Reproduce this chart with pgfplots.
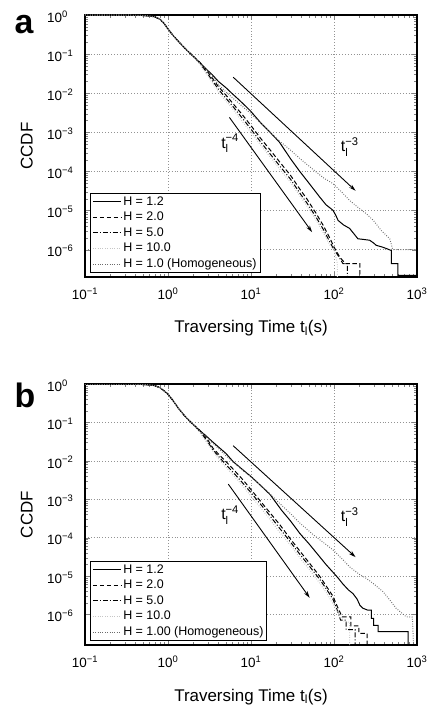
\documentclass[border=0pt]{standalone}
\usepackage{pgfplots}
\pgfplotsset{compat=1.18}
\usepackage{amsmath}
\usepackage{fontspec}
\setmainfont{Liberation Sans}
\usetikzlibrary{arrows.meta}

\pgfplotsset{
  legend image code/.code={\draw[#1] (0bp,0bp) -- (28bp,0bp);},
}
\tikzset{
  h12/.style={black, line width=1pt, solid},
  h20/.style={black, line width=1pt, dash pattern=on 4.5pt off 2.5pt},
  h50/.style={black, line width=1pt, dash pattern=on 5pt off 2pt on 1pt off 2pt},
  h10/.style={gray!45, line width=1pt, dash pattern=on 0.8pt off 1.6pt},
  hom/.style={black!58, line width=1pt, dash pattern=on 0.8pt off 1.6pt},
  arr/.style={black, line width=0.9pt, -{Stealth[length=7pt,width=4pt]}},
  tlab/.style={font=\fontsize{16}{16}\selectfont},
}

\begin{document}
\begin{tikzpicture}
\useasboundingbox (0,0) rectangle (428bp,708bp);

% ---------------- panel a ----------------
\begin{axis}[
    at={(85bp,431bp)}, anchor=south west, height=262bp, ymin=2e-7,
    scale only axis, width=332bp,
    xmode=log, ymode=log,
    xmin=0.1, xmax=1000, ymax=1,
    xtick={0.1,1,10,100,1000},
    xticklabels={10\textsuperscript{−1},10\textsuperscript{0},10\textsuperscript{1},10\textsuperscript{2},10\textsuperscript{3}},
    ytick={1e-6,1e-5,1e-4,1e-3,1e-2,1e-1,1},
    yticklabels={10\textsuperscript{−6},10\textsuperscript{−5},10\textsuperscript{−4},10\textsuperscript{−3},10\textsuperscript{−2},10\textsuperscript{−1},10\textsuperscript{0}},
    tick label style={font=\fontsize{13.5}{13.5}\selectfont},
    xticklabel style={inner sep=0pt, yshift=-11bp},
    yticklabel style={anchor=west, inner sep=0pt, xshift=-38bp, yshift=-1.5bp},
    grid=major,
    major grid style={gray!85, dash pattern=on 0.7pt off 2.2pt, line width=0.5pt},
    tick align=inside,
    major tick length=5bp, minor tick length=3bp,
    axis line style={line width=1.1pt},
    xlabel={Traversing Time t\textsubscript{l}(s)}, ylabel={CCDF},
    label style={font=\fontsize{17}{17}\selectfont},
    xlabel style={at={(axis description cs:0.5,0)}, anchor=base, yshift=-56bp},
    ylabel style={at={(axis description cs:-0.175,0.5)}, anchor=center},
    legend style={at={(0.016,0.014)}, anchor=south west, font=\fontsize{12.5}{12.5}\selectfont,
      draw=black, line width=1pt, inner sep=1.5pt, row sep=1.4pt},
    legend cell align=left,
]
\addplot[h12] coordinates {
(0.1,1) (0.3,0.995) (0.5,0.97) (0.6,0.94) (0.7,0.89) (0.8,0.78) (0.9,0.60) (1.0,0.44)
(1.15,0.30) (1.34,0.21) (1.6,0.14) (1.94,0.095) (2.44,0.059) (2.8,0.044) (3.4,0.030)
(4.05,0.020) (5,0.0138) (5.86,0.010) (7,0.0071) (8.5,0.0048) (10,0.0034) (13,0.00178)
(17,0.00100) (22,5.6e-4) (30,2.1e-4) (38.7,1.0e-4) (50,5.0e-5) (67,2.24e-5) (80,1.41e-5)
(97,1.02e-5) (105,7.6e-6) (112,5.6e-6) (130,4.3e-6) (154,3.5e-6) (175,2.5e-6) (194,1.9e-6)
(230,1.82e-6) (269,1.74e-6) (300,1.48e-6) (323,1.29e-6) (380,1.17e-6) (427,1.07e-6)
(490,9.5e-7) (490,4.4e-7) (590,4.4e-7) (590,2.2e-7) (1000,2.2e-7)};
\addlegendentry{H = 1.2}
\addplot[h20] coordinates {
(0.1,1) (0.3,0.995) (0.5,0.97) (0.6,0.94) (0.7,0.89) (0.8,0.78) (0.9,0.60) (1.0,0.44)
(1.15,0.30) (1.34,0.21) (1.6,0.14) (1.94,0.095) (2.4,0.063) (3,0.0355) (4.05,0.0148)
(5,0.0089) (6,0.0056) (8,0.0027) (10,0.00148) (13,7.1e-4) (17,3.55e-4) (22,1.78e-4)
(30,7.9e-5) (38.7,3.55e-5) (47,2.0e-5) (60,8.9e-6) (75,4.0e-6) (90,1.9e-6) (100,1.17e-6)
(117,6.5e-7) (137,4.4e-7) (205,4.4e-7) (205,2e-7)};
\addlegendentry{H = 2.0}
\addplot[h50] coordinates {
(0.1,1) (0.3,0.995) (0.5,0.97) (0.6,0.94) (0.7,0.89) (0.8,0.78) (0.9,0.60) (1.0,0.44)
(1.15,0.30) (1.34,0.21) (1.6,0.14) (1.94,0.095) (2.4,0.060) (3,0.0316) (4.05,0.0126)
(5,0.0074) (6,0.0047) (8,0.0022) (10,0.0012) (13,5.75e-4) (17,2.8e-4) (22,1.41e-4)
(30,6.3e-5) (38.7,2.8e-5) (47,1.58e-5) (60,7.1e-6) (75,3.2e-6) (90,1.51e-6) (100,1e-6)
(112,7.1e-7) (128,4.4e-7) (145,4.4e-7) (145,2e-7) (250,2e-7)};
\addlegendentry{H = 5.0}
\addplot[h10] coordinates {
(0.1,1) (0.3,0.995) (0.5,0.97) (0.6,0.94) (0.7,0.89) (0.8,0.78) (0.9,0.60) (1.0,0.44)
(1.15,0.30) (1.34,0.21) (1.6,0.14) (1.94,0.095) (2.4,0.056) (3,0.028) (4.05,0.0107)
(5,0.0063) (6,0.0040) (8,0.0018) (10,0.0010) (13,4.8e-4) (17,2.34e-4) (22,1.17e-4)
(30,5.2e-5) (38.7,2.4e-5) (47,1.32e-5) (60,6.0e-6) (75,2.6e-6) (90,1.26e-6) (100,1e-6)
(110,4.4e-7) (110,2e-7)};
\addlegendentry{H = 10.0}
\addplot[hom] coordinates {
(0.1,1) (0.3,0.995) (0.5,0.97) (0.6,0.94) (0.7,0.89) (0.8,0.78) (0.9,0.60) (1.0,0.44)
(1.15,0.30) (1.34,0.21) (1.6,0.14) (1.94,0.095) (2.44,0.059) (2.8,0.043) (3.4,0.028)
(4.05,0.0166) (5,0.0107) (6,0.0076) (8,0.0045) (10,0.0030) (13,0.00174) (15.5,0.0012)
(22,6.0e-4) (30,3.5e-4) (38.7,2.14e-4) (56,1.12e-4) (75,6.8e-5) (97,4.9e-5) (125,2.9e-5)
(154,1.82e-5) (200,1.15e-5) (245,8.3e-6) (300,5.5e-6) (370,3.1e-6) (470,1.9e-6)
(510,1e-6) (1000,1e-6)};
\addlegendentry{H = 1.0 (Homogeneous)}
\addplot[arr, forget plot] coordinates {(6.1,0.0257) (182,3.2e-5)};
\addplot[arr, forget plot] coordinates {(5.5,2.4e-3) (54.5,2.8e-6)};
\node[tlab] at (axis cs:5.6,5.2e-4) {t$_{\text{l}}^{\text{−4}}$};
\node[tlab] at (axis cs:155,4.2e-4) {t$_{\text{l}}^{\text{−3}}$};
\end{axis}
\node[font=\bfseries\fontsize{34}{34}\selectfont] at (24bp,683bp) {a};

% ---------------- panel b ----------------
\begin{axis}[
    at={(85bp,63bp)}, anchor=south west, height=261bp, ymin=1.6e-7,
    scale only axis, width=332bp,
    xmode=log, ymode=log,
    xmin=0.1, xmax=1000, ymax=1,
    xtick={0.1,1,10,100,1000},
    xticklabels={10\textsuperscript{−1},10\textsuperscript{0},10\textsuperscript{1},10\textsuperscript{2},10\textsuperscript{3}},
    ytick={1e-6,1e-5,1e-4,1e-3,1e-2,1e-1,1},
    yticklabels={10\textsuperscript{−6},10\textsuperscript{−5},10\textsuperscript{−4},10\textsuperscript{−3},10\textsuperscript{−2},10\textsuperscript{−1},10\textsuperscript{0}},
    tick label style={font=\fontsize{13.5}{13.5}\selectfont},
    xticklabel style={inner sep=0pt, yshift=-11bp},
    yticklabel style={anchor=west, inner sep=0pt, xshift=-38bp, yshift=-1.5bp},
    grid=major,
    major grid style={gray!85, dash pattern=on 0.7pt off 2.2pt, line width=0.5pt},
    tick align=inside,
    major tick length=5bp, minor tick length=3bp,
    axis line style={line width=1.1pt},
    xlabel={Traversing Time t\textsubscript{l}(s)}, ylabel={CCDF},
    label style={font=\fontsize{17}{17}\selectfont},
    xlabel style={at={(axis description cs:0.5,0)}, anchor=base, yshift=-56bp},
    ylabel style={at={(axis description cs:-0.175,0.5)}, anchor=center},
    legend style={at={(0.016,0.014)}, anchor=south west, font=\fontsize{12.5}{12.5}\selectfont,
      draw=black, line width=1pt, inner sep=1.5pt, row sep=1.4pt},
    legend cell align=left,
]
\addplot[h12] coordinates {
(0.1,1) (0.3,0.995) (0.5,0.97) (0.6,0.945) (0.7,0.9) (0.8,0.8) (0.9,0.66) (1.0,0.54)
(1.15,0.37) (1.34,0.23) (1.6,0.145) (1.94,0.095) (2.4,0.062) (2.8,0.047) (3.4,0.032)
(4.05,0.023) (5,0.0155) (6.1,0.0095) (7,0.0074) (8.5,0.0052) (10,0.0039) (13,0.0023)
(17,0.00132) (23.3,5.2e-4) (30,2.7e-4) (38.7,1.29e-4) (50,6.9e-5) (67,3.2e-5) (80,2.0e-5)
(97,1.26e-5) (112,8.9e-6) (128,6.2e-6) (150,4.3e-6) (169,3.5e-6) (190,2.5e-6) (205,1.74e-6)
(223,1.45e-6) (256,1.29e-6) (282,1.29e-6) (282,7.9e-7) (300,7.9e-7) (300,5.2e-7)
(340,5.2e-7) (340,3.55e-7) (780,3.55e-7) (780,1.6e-7) (1000,1.6e-7)};
\addlegendentry{H = 1.2}
\addplot[h20] coordinates {
(0.1,1) (0.3,0.995) (0.5,0.97) (0.6,0.945) (0.7,0.9) (0.8,0.8) (0.9,0.66) (1.0,0.54)
(1.15,0.37) (1.34,0.23) (1.6,0.145) (1.94,0.095) (2.4,0.063) (3,0.0355) (3.5,0.021)
(4.05,0.0151) (5,0.0095) (6,0.0063) (8,0.0032) (10,0.00178) (15.5,5.6e-4) (22,2.24e-4)
(30,9.1e-5) (38.7,4.5e-5) (50,2.24e-5) (67,1e-5) (82,5.2e-6) (97,3.0e-6) (110,1.58e-6)
(125,8.7e-7) (160,8.7e-7) (160,5.0e-7) (200,5.0e-7) (200,3.2e-7) (250,3.2e-7)
(250,1.6e-7) (500,1.6e-7)};
\addlegendentry{H = 2.0}
\addplot[h50] coordinates {
(0.1,1) (0.3,0.995) (0.5,0.97) (0.6,0.945) (0.7,0.9) (0.8,0.8) (0.9,0.66) (1.0,0.54)
(1.15,0.37) (1.34,0.23) (1.6,0.145) (1.94,0.095) (2.4,0.060) (3,0.0316) (3.5,0.019)
(4.05,0.0132) (5,0.0079) (6,0.0052) (8,0.0026) (10,0.00148) (15.5,4.7e-4) (22,1.78e-4)
(30,7.6e-5) (38.7,3.7e-5) (50,1.86e-5) (67,8.3e-6) (82,4.4e-6) (97,2.5e-6) (110,1.26e-6)
(120,7.1e-7) (140,7.1e-7) (140,4e-7) (180,4e-7) (180,1.6e-7) (300,1.6e-7)};
\addlegendentry{H = 5.0}
\addplot[h10] coordinates {
(0.1,1) (0.3,0.995) (0.5,0.97) (0.6,0.945) (0.7,0.9) (0.8,0.8) (0.9,0.66) (1.0,0.54)
(1.15,0.37) (1.34,0.23) (1.6,0.145) (1.94,0.095) (2.4,0.056) (3,0.028) (4.05,0.0112)
(5,0.0068) (6,0.0044) (8,0.0022) (10,0.0012) (15.5,3.8e-4) (22,1.41e-4) (30,6.3e-5)
(38.7,3.0e-5) (50,1.51e-5) (67,6.6e-6) (82,3.55e-6) (97,1.9e-6) (115,1e-6) (135,6.3e-7)
(154,6.3e-7) (154,1.6e-7)};
\addlegendentry{H = 10.0}
\addplot[hom] coordinates {
(0.1,1) (0.3,0.995) (0.5,0.97) (0.6,0.945) (0.7,0.9) (0.8,0.8) (0.9,0.66) (1.0,0.54)
(1.15,0.37) (1.34,0.23) (1.6,0.145) (1.94,0.095) (2.4,0.062) (2.8,0.045) (3.4,0.030)
(4.05,0.021) (5,0.0135) (6,0.0095) (8,0.0056) (10,0.0038) (13,0.00234) (15.5,0.00166)
(22,7.9e-4) (30,4.2e-4) (38.7,2.4e-4) (56,1.2e-4) (75,7.4e-5) (97,4.8e-5) (125,2.8e-5)
(154,1.74e-5) (200,1.12e-5) (245,8.7e-6) (300,6.3e-6) (390,3.9e-6) (480,2.24e-6)
(560,1.45e-6) (740,8.7e-7) (880,8.5e-7) (900,2.5e-7) (910,1.6e-7)};
\addlegendentry{H = 1.00 (Homogeneous)}
\addplot[arr, forget plot] coordinates {(6.1,0.0247) (182,3.1e-5)};
\addplot[arr, forget plot] coordinates {(5.33,2.47e-3) (51,2.7e-6)};
\node[tlab] at (axis cs:5.6,3.9e-4) {t$_{\text{l}}^{\text{−4}}$};
\node[tlab] at (axis cs:155,3.5e-4) {t$_{\text{l}}^{\text{−3}}$};
\end{axis}
\node[font=\bfseries\fontsize{34}{34}\selectfont] at (25bp,313bp) {b};
\end{tikzpicture}
\end{document}
